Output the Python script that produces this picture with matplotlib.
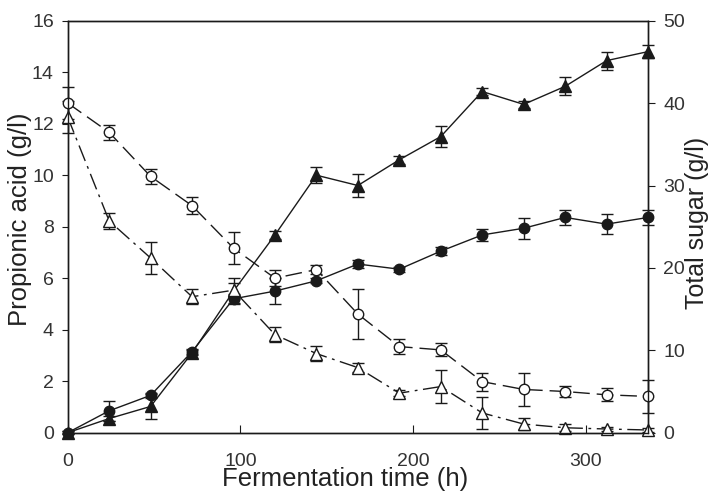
import matplotlib
matplotlib.use("Agg")
import matplotlib.pyplot as plt

plt.rcParams['font.family'] = ['Liberation Sans', 'DejaVu Sans']

time_h = [0, 24, 48, 72, 96, 120, 144, 168, 192, 216, 240, 264, 288, 312, 336]

# Propionic acid (left axis, g/l) - filled symbols
pa_tri = [0.0, 0.55, 1.02, 3.1, 5.5, 7.68, 10.0, 9.6, 10.6, 11.5, 13.25, 12.75, 13.45, 14.45, 14.8]
pa_tri_err = [0.05, 0.1, 0.47, 0.1, 0.3, 0.15, 0.3, 0.45, 0.15, 0.4, 0.15, 0.15, 0.35, 0.35, 0.25]
pa_cir = [0.0, 0.85, 1.45, 3.15, 5.2, 5.5, 5.9, 6.55, 6.35, 7.05, 7.68, 7.94, 8.36, 8.1, 8.36]
pa_cir_err = [0.05, 0.38, 0.1, 0.1, 0.2, 0.5, 0.1, 0.15, 0.1, 0.15, 0.25, 0.4, 0.3, 0.4, 0.3]

# Total sugar (right axis, g/l) - open symbols
ts_cir = [40.0, 36.45, 31.1, 27.55, 22.4, 18.75, 19.8, 14.4, 10.45, 10.05, 6.2, 5.25, 5.0, 4.6, 4.4]
ts_cir_err = [1.9, 0.9, 0.9, 1.0, 1.9, 1.0, 0.6, 3.0, 0.9, 0.8, 1.1, 2.0, 0.7, 0.8, 2.0]
ts_tri = [38.3, 25.7, 21.2, 16.5, 17.3, 11.9, 9.6, 7.9, 4.8, 5.6, 2.4, 1.05, 0.6, 0.45, 0.33]
ts_tri_err = [1.9, 1.0, 1.95, 0.9, 1.5, 0.9, 0.9, 0.5, 0.4, 2.0, 1.9, 0.7, 0.4, 0.3, 0.3]

fig = plt.figure(figsize=(7.09, 4.93), dpi=100)
ax = fig.add_axes([0.0955, 0.1223, 0.8185, 0.8357])
ax2 = ax.twinx()

c = '#1a1a1a'
ekw = dict(elinewidth=1.0, capsize=4, capthick=1.0, ecolor=c, clip_on=False)

ax.errorbar(time_h, pa_tri, yerr=pa_tri_err, color=c, lw=1.0, marker='^', ms=8,
            mfc=c, mec=c, **ekw)
ax.errorbar(time_h, pa_cir, yerr=pa_cir_err, color=c, lw=1.0, marker='o', ms=7.5,
            mfc=c, mec=c, **ekw)
ax2.errorbar(time_h, ts_cir, yerr=ts_cir_err, color=c, lw=1.0, marker='o', ms=7.5,
             mfc='white', mec=c, ls=(0, (12, 5)), **ekw)
ax2.errorbar(time_h, ts_tri, yerr=ts_tri_err, color=c, lw=1.0, marker='^', ms=8,
             mfc='white', mec=c, ls=(0, (12, 4, 2, 4)), **ekw)

for line in ax.lines + ax2.lines:
    line.set_clip_on(False)

ax.set_xlim(0, 336)
ax.set_ylim(0, 16)
ax2.set_ylim(0, 50)
ax.set_xticks([0, 100, 200, 300])
ax.set_yticks(range(0, 17, 2))
ax2.set_yticks(range(0, 51, 10))

tc = '#333333'
ax.tick_params(axis='x', direction='in', length=6, labelsize=14, pad=14.5, color=c, labelcolor=tc)
ax.tick_params(axis='y', direction='out', length=4, labelsize=14, pad=6, color=c, labelcolor=tc)
ax2.tick_params(axis='y', direction='out', length=5, labelsize=14, pad=6, color=c, labelcolor=tc)

for a in (ax, ax2):
    for s in a.spines.values():
        s.set_linewidth(1.0)
        s.set_color(c)

ax.set_xlabel('Fermentation time (h)', fontsize=18.5, color='#222222', va='baseline')
ax.xaxis.set_label_coords(0.478, -0.130)
ax.set_ylabel('Propionic acid (g/l)', fontsize=18.5, color='#222222')
ax.yaxis.set_label_coords(-0.0615, 0.518)
ax2.set_ylabel('Total sugar (g/l)', fontsize=18, color='#222222')
ax2.yaxis.set_label_coords(1.064, 0.51)

fig.savefig('out.png', dpi=100)
